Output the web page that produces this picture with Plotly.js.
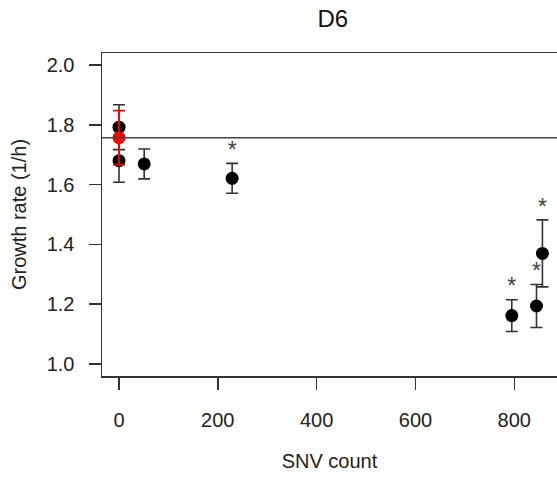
<!DOCTYPE html>
<html>
<head>
<meta charset="utf-8">
<script src="https://cdn.plot.ly/plotly-3.0.1.min.js"></script>
<style>html,body{margin:0;padding:0;background:#fff;overflow:hidden;}</style>
</head>
<body>
<div id="chart" style="width:557px;height:479px;"></div>
<script>
// Evolved lines: SNV count vs growth rate
const snvCount = [0, 0, 51, 229, 795, 845, 857];
const growthRate = [1.792, 1.680, 1.669, 1.621, 1.162, 1.194, 1.370];
const growthErr = [0.075, 0.072, 0.050, 0.050, 0.053, 0.072, 0.112];
const significant = [false, false, false, true, true, true, true];
// Ancestor (red)
const ancestorSnv = [0];
const ancestorRate = [1.757];
const ancestorErr = [0.090];
// Axis ticks
const xTicks = [0, 200, 400, 600, 800];
const yTicks = [1.0, 1.2, 1.4, 1.6, 1.8, 2.0];
const yTickLabels = ["1.0", "1.2", "1.4", "1.6", "1.8", "2.0"];

const FONT = "Liberation Sans, Arial, Helvetica, sans-serif";

const starX = [], starY = [];
for (let i = 0; i < snvCount.length; i++) {
  if (significant[i]) {
    starX.push(snvCount[i]);
    starY.push(growthRate[i] + growthErr[i] + 0.037);
  }
}

const traces = [
  {
    x: snvCount, y: growthRate, type: 'scatter', mode: 'markers',
    marker: {color: '#000', size: 13},
    error_y: {type: 'data', array: growthErr, visible: true, color: '#333', thickness: 1.6, width: 6},
    hoverinfo: 'x+y', showlegend: false
  },
  {
    x: ancestorSnv, y: ancestorRate, type: 'scatter', mode: 'markers',
    marker: {color: '#ff0000', size: 13},
    error_y: {type: 'data', array: ancestorErr, visible: true, color: '#ff0000', thickness: 1.8, width: 6},
    showlegend: false
  },
  {
    x: starX, y: starY, type: 'scatter', mode: 'text', text: starX.map(() => '*'),
    textposition: 'middle center', textfont: {family: FONT, size: 23, color: '#444'},
    hoverinfo: 'skip', showlegend: false
  }
];

const layout = {
  width: 557, height: 479,
  margin: {l: 102, r: 0, t: 53, b: 103, pad: 0},
  paper_bgcolor: '#fff', plot_bgcolor: '#fff',
  font: {family: FONT, size: 20, color: '#222'},
  title: {text: 'D6', font: {family: FONT, size: 24, color: '#111'}, x: 0.5975, xanchor: 'center', y: 0.961, yanchor: 'middle'},
  xaxis: {
    range: [-34.4, 886.5], tickvals: xTicks, ticktext: xTicks.map(String),
    showgrid: false, zeroline: false,
    showline: true, mirror: true, linecolor: '#333', linewidth: 1.5,
    ticks: 'outside', ticklen: 12, tickwidth: 1.5, tickcolor: '#333',
    ticklabelstandoff: 13,
    title: {text: 'SNV count', font: {family: FONT, size: 20, color: '#222'}, standoff: 24}
  },
  yaxis: {
    range: [0.96, 2.04], tickvals: yTicks, ticktext: yTickLabels,
    showgrid: false, zeroline: false,
    showline: true, mirror: false, linecolor: '#333', linewidth: 1.5,
    ticks: 'outside', ticklen: 12, tickwidth: 1.5, tickcolor: '#333',
    ticklabelstandoff: 10,
    title: {text: 'Growth rate (1/h)', font: {family: FONT, size: 20, color: '#222'}, standoff: 14}
  },
  shapes: [{
    type: 'line', xref: 'paper', x0: 0, x1: 1, yref: 'y', y0: ancestorRate[0], y1: ancestorRate[0],
    line: {color: '#444', width: 1.5}
  }]
};

Plotly.newPlot('chart', traces, layout, {displayModeBar: false, staticPlot: true});
</script>
</body>
</html>
